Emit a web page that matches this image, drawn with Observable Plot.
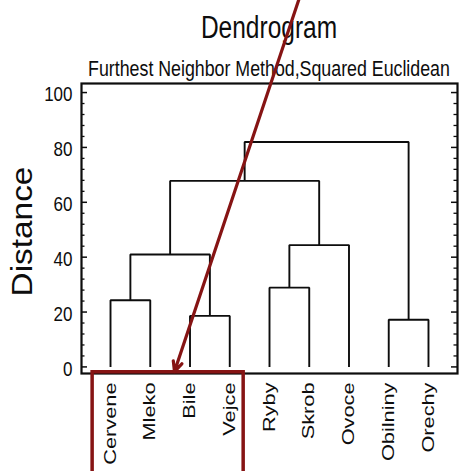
<!DOCTYPE html>
<html>
<head>
<meta charset="utf-8">
<script src="https://cdn.jsdelivr.net/npm/d3@7"></script>
<script src="https://cdn.jsdelivr.net/npm/@observablehq/plot@0.6"></script>
<style>
  html, body { margin: 0; padding: 0; background: #fff; }
  #chart { position: relative; width: 459px; height: 471px; overflow: hidden;
           font-family: "Liberation Sans", Arial, sans-serif; color: #0d0d0d; }
  .head { position: absolute; left: 81px; width: 376px; text-align: center; white-space: nowrap; }
  #title { top: 18.3px; font-size: 24.5px; line-height: 24.5px;
           transform-origin: 50% 20.7px; transform: scaleY(1.26); }
  #subtitle { top: 61.9px; font-size: 17.8px; line-height: 17.8px;
              transform-origin: 50% 15.07px; transform: scaleY(1.25); }
  #plot { position: absolute; left: 0; top: 80px; }
</style>
</head>
<body>
<div id="chart">
  <div class="head" id="title">Dendrogram</div>
  <div class="head" id="subtitle">Furthest Neighbor Method,Squared Euclidean</div>
  <div id="plot"></div>
</div>
<script>
// Leaf order along the horizontal axis
const leaves = ["Cervene", "Mleko", "Bile", "Vejce", "Ryby", "Skrob", "Ovoce", "Obilniny", "Orechy"];

// Agglomeration steps: [left cluster, right cluster, distance].
// Ids 0–8 are the leaves; each step creates the next id (9, 10, ...).
const merges = [
  [7, 8, 17.2],    // 9  Obilniny + Orechy
  [2, 3, 18.6],    // 10 Bile + Vejce
  [0, 1, 24.3],    // 11 Cervene + Mleko
  [4, 5, 28.9],    // 12 Ryby + Skrob
  [11, 10, 41.0],  // 13
  [12, 6, 44.4],   // 14
  [13, 14, 67.8],  // 15
  [15, 9, 82.0]    // 16
];

const distanceTicks = [0, 20, 40, 60, 80, 100];
const minorTicks = [4, 8, 12, 16, 24, 28, 32, 36, 44, 48, 52, 56, 64, 68, 72, 76, 84, 88, 92, 96];

// Callout: arrow pointing at the highlighted group, and the box around its labels
const callout = [{x1: 4.78, y1: 135.7, x2: 1.61, y2: -1.68}];
const highlight = [{x1: -0.45, x2: 3.35, y1: -1.95, y2: -45}];

// Build the elbow connectors of the tree
const nodes = leaves.map((name, i) => ({x: i, y: 0}));
const elbows = [];
merges.forEach(([a, b, h], k) => {
  const A = nodes[a], B = nodes[b];
  nodes.push({x: (A.x + B.x) / 2, y: h});
  elbows.push(
    {id: k, x: A.x, y: A.y},
    {id: k, x: A.x, y: h},
    {id: k, x: B.x, y: h},
    {id: k, x: B.x, y: B.y}
  );
});

const W = 459, H = 391;
const mL = 81, mR = 2;
const frameW = W - mL - mR;
const ink = "#0d0d0d";
const red = "#861414";

const svg = Plot.plot({
  width: W,
  height: H,
  marginLeft: mL,
  marginRight: mR,
  marginTop: 3,
  marginBottom: 98,
  x: {domain: [-0.73, 8.73]},
  y: {domain: [-2.4, 103.3]},
  style: {
    fontFamily: "'Liberation Sans', Arial, sans-serif",
    fontSize: "17px",
    color: ink,
    background: "transparent",
    overflow: "visible"
  },
  marks: [
    Plot.line(elbows, {x: "x", y: "y", z: "id", stroke: ink, strokeWidth: 1.9,
                       strokeLinejoin: "miter", strokeLinecap: "butt"}),
    // inward ticks on both sides of the frame
    Plot.ruleY(distanceTicks, {insetRight: frameW - 6, stroke: ink, strokeWidth: 1.5}),
    Plot.ruleY(distanceTicks, {insetLeft: frameW - 6, stroke: ink, strokeWidth: 1.5}),
    Plot.ruleY(minorTicks, {insetRight: frameW - 3.5, stroke: ink, strokeWidth: 1.3}),
    Plot.ruleY(minorTicks, {insetLeft: frameW - 3.5, stroke: ink, strokeWidth: 1.3}),
    Plot.frame({stroke: ink, strokeWidth: 2.2}),
    Plot.axisY({ticks: distanceTicks, tickSize: 0, tickPadding: 9, label: null,
                fontSize: 17, dy: 2}),
    Plot.axisX({ticks: d3.range(leaves.length), tickFormat: i => leaves[i],
                tickRotate: -90, tickSize: 0, tickPadding: 9, label: null, fontSize: 16}),
    Plot.text(["Distance"], {frameAnchor: "left", textAnchor: "middle", lineAnchor: "middle",
                             rotate: -90, dx: -58.5, dy: 3, fontSize: 29, fill: ink}),
    Plot.rect(highlight, {x1: "x1", x2: "x2", y1: "y1", y2: "y2", fill: "none",
                          stroke: red, strokeWidth: 3.5}),
    Plot.arrow(callout, {x1: "x1", y1: "y1", x2: "x2", y2: "y2", stroke: red,
                         strokeWidth: 3.2, headLength: 5, headAngle: 50})
  ]
});

// The lettering is drawn tall and narrow; stretch each label about its anchor
function stretch(sel, sx, sy) {
  sel.each(function () {
    const x = +this.getAttribute("x") || 0;
    const y = +this.getAttribute("y") || 0;
    const t = this.getAttribute("transform") || "";
    this.setAttribute("transform",
      `${t} translate(${x},${y}) scale(${sx},${sy}) translate(${-x},${-y})`);
  });
}
const root = d3.select(svg);
stretch(root.selectAll('g[aria-label="y-axis tick label"] text'), 1, 1.22);
stretch(root.selectAll('g[aria-label="x-axis tick label"] text'), 1.36, 1);
const axisTitle = root.selectAll("text").filter(function () { return this.textContent === "Distance"; });
axisTitle.style("font-size", "29px");
stretch(axisTitle, 1.15, 1);

document.getElementById("plot").appendChild(svg);
</script>
</body>
</html>
